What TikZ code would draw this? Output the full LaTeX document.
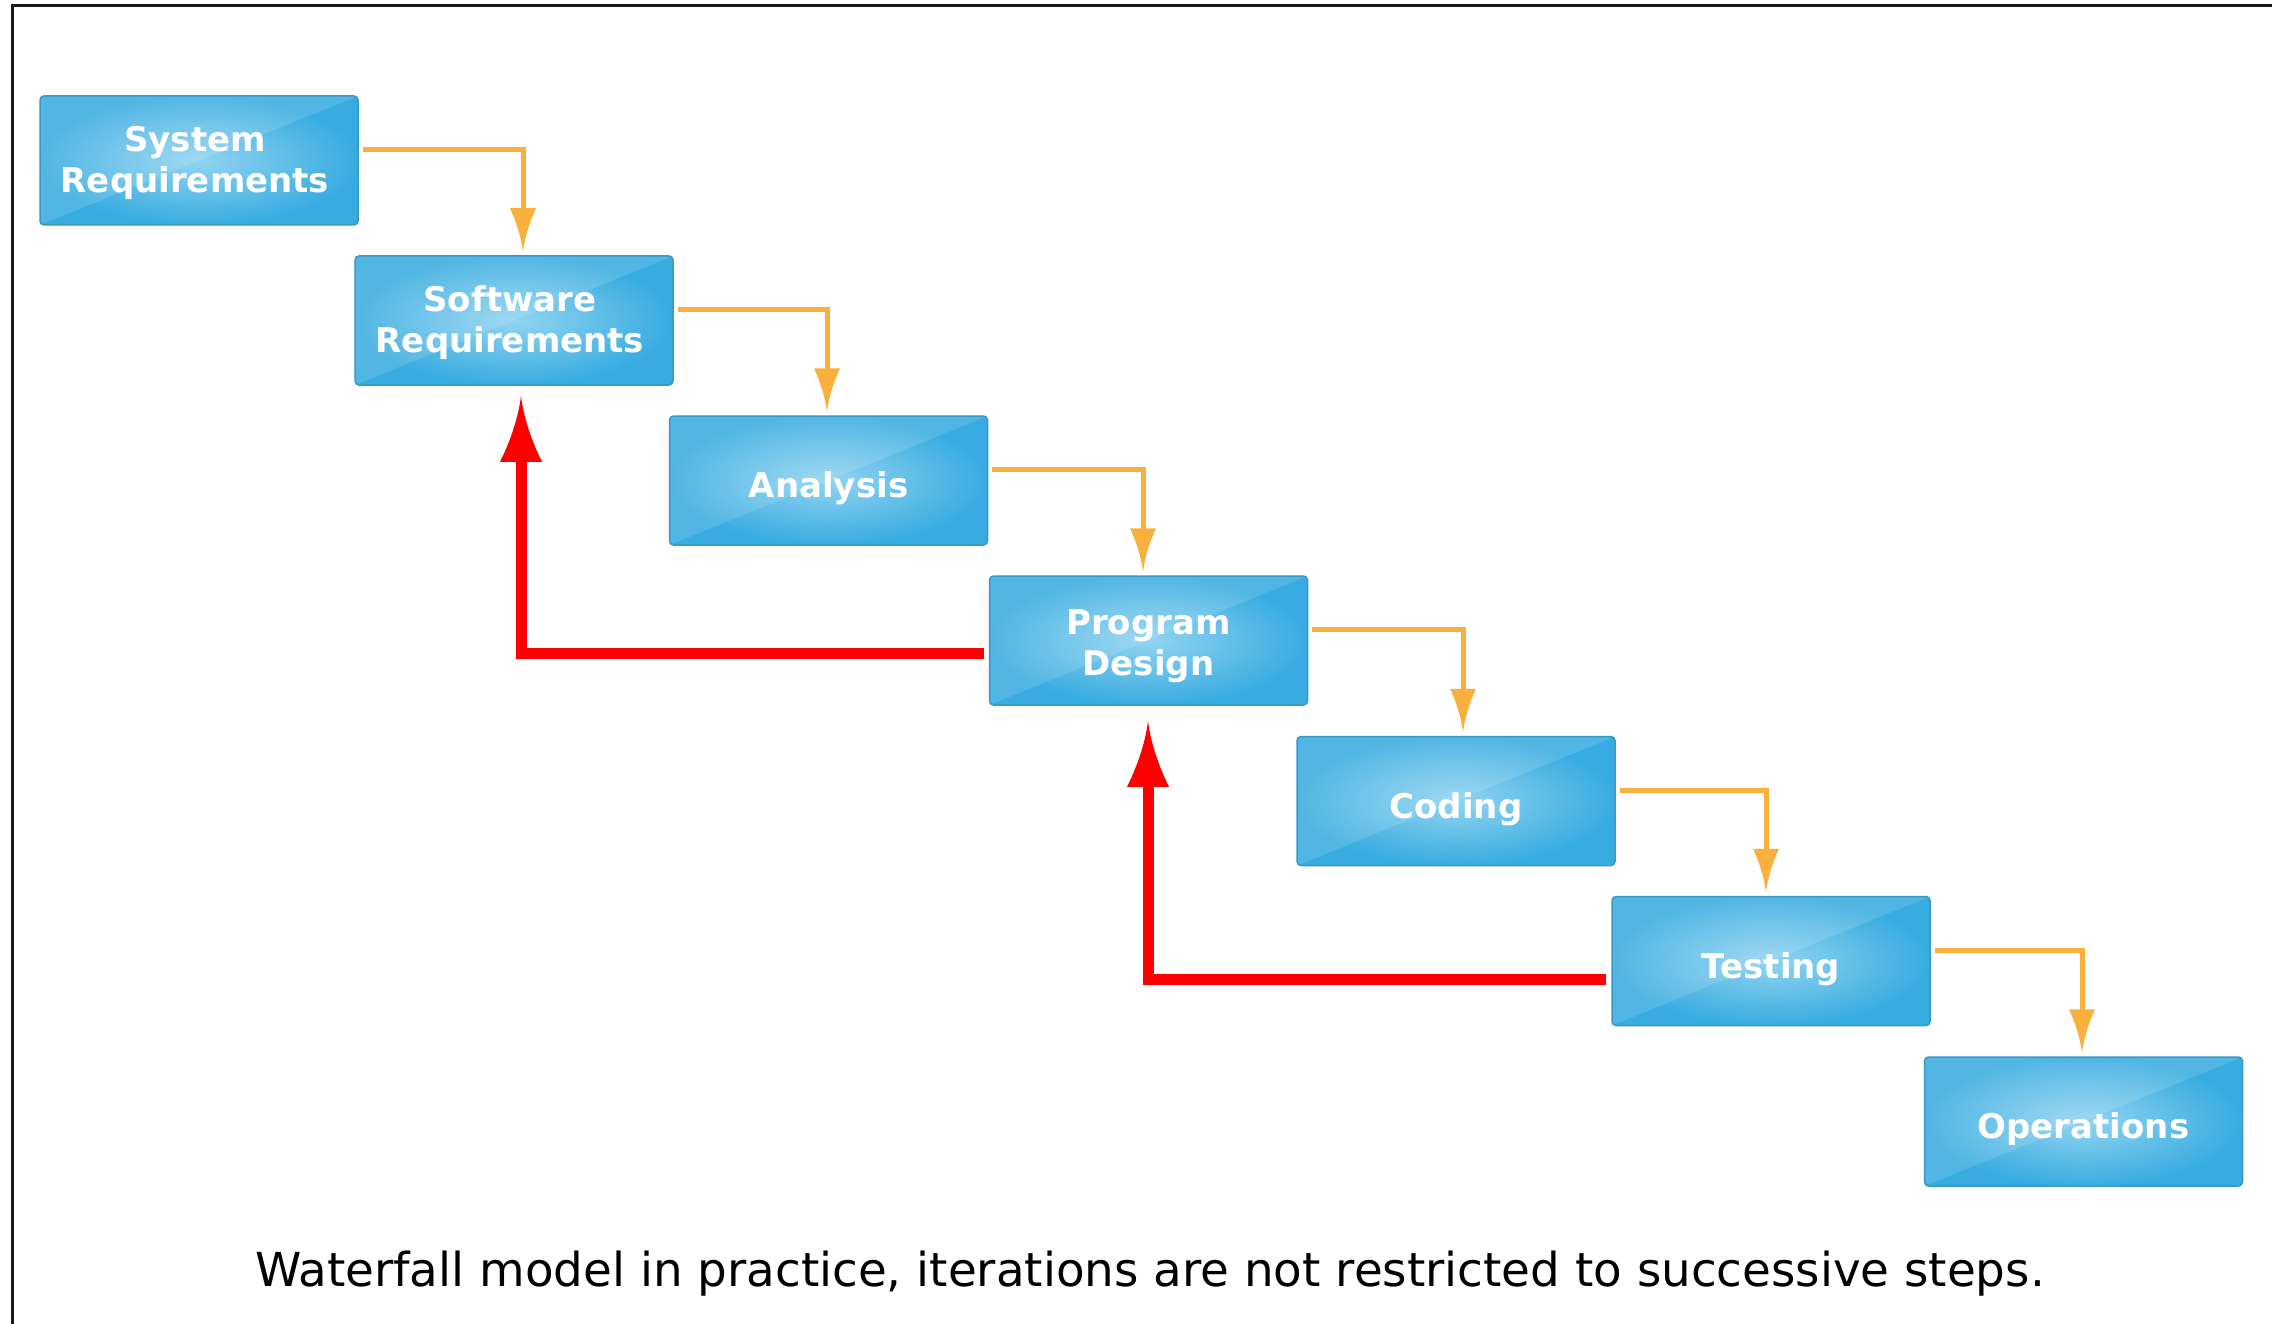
\documentclass[tikz,border=0pt]{standalone}
\usepackage{fontspec}
\setmainfont{DejaVu Sans}
\usetikzlibrary{arrows.meta}
\definecolor{boxin}{HTML}{92D4F1}
\definecolor{boxout}{HTML}{38ACE0}
\definecolor{boxedge}{HTML}{3B97C3}
\definecolor{flow}{HTML}{F9B03C}
\definecolor{back}{HTML}{FF0000}
\definecolor{frame}{HTML}{1A1A1A}
\pgfdeclarearrow{
  name = Swoosh,
  parameters = {\the\pgfarrowlength,\the\pgfarrowwidth},
  setup code = {
    \pgfarrowssettipend{\pgfarrowlength}
    \pgfarrowssetlineend{.3\pgfarrowlength}
    \pgfarrowssetbackend{0pt}
    \pgfarrowssavethe\pgfarrowlength
    \pgfarrowssavethe\pgfarrowwidth
  },
  drawing code = {
    \pgfpathmoveto{\pgfqpoint{\pgfarrowlength}{0pt}}
    \pgfpathcurveto{\pgfqpoint{.65\pgfarrowlength}{.06\pgfarrowwidth}}{\pgfqpoint{.25\pgfarrowlength}{.3\pgfarrowwidth}}{\pgfqpoint{0pt}{.5\pgfarrowwidth}}
    \pgfpathlineto{\pgfqpoint{0pt}{-.5\pgfarrowwidth}}
    \pgfpathcurveto{\pgfqpoint{.25\pgfarrowlength}{-.3\pgfarrowwidth}}{\pgfqpoint{.65\pgfarrowlength}{-.06\pgfarrowwidth}}{\pgfqpoint{\pgfarrowlength}{0pt}}
    \pgfpathclose
    \pgfusepathqfill
  },
  defaults = {length=40pt, width=24pt}
}
\tikzset{
  stepbox/.style={rectangle, rounded corners=4pt, draw=boxedge, line width=1.5pt,
    minimum width=318pt, minimum height=129pt, inner sep=0pt,
    inner color=boxin, outer color=boxout,
    path picture={\fill[white, opacity=0.13] (path picture bounding box.south west) -- (path picture bounding box.north west) -- (path picture bounding box.north east) -- cycle;}},
  steptext/.style={text=white, align=center, inner sep=0pt, font=\bfseries\fontsize{34}{41}\selectfont},
  flowline/.style={draw=flow, line width=5pt, -{Swoosh[length=44pt,width=26pt]}},
  backline/.style={draw=back, line width=11pt, -{Swoosh[length=66pt,width=42pt]}},
}
\begin{document}
\begin{tikzpicture}[x=1pt,y=-1pt]
\useasboundingbox (0,0) rectangle (2272,1324);
\fill[white] (0,0) rectangle (2272,1324);
\draw[frame, line width=3pt] (12,1330) -- (12,5.5) -- (2280,5.5);

\node[stepbox] (b1) at (199,160.5) {};
\node[stepbox] (b2) at (514,320.5) {};
\node[stepbox] (b3) at (828.5,480.5) {};
\node[stepbox] (b4) at (1148.5,640.5) {};
\node[stepbox] (b5) at (1456,801) {};
\node[stepbox] (b6) at (1771,961) {};
\node[stepbox] (b7) at (2083.5,1121.5) {};

\node[steptext] (t1) at ([shift={(-4pt,-2pt)}]b1.center) {System\\Requirements};
\node[steptext] (t2) at ([shift={(-4pt,-2pt)}]b2.center) {Software\\Requirements};
\node[steptext] (t3) at ([yshift=-8pt]b3.center) {Analysis};
\node[steptext] (t4) at ([yshift=-6pt]b4.center) {Program\\Design};
\node[steptext] (t5) at ([yshift=-8pt]b5.center) {Coding};
\node[steptext] (t6) at ([yshift=-8pt]b6.center) {Testing};
\node[steptext] (t7) at ([yshift=-8pt]b7.center) {Operations};

\draw[flowline] ([shift={(4pt,11pt)}]b1.east) -| ([shift={(9pt,3pt)}]b2.north);
\draw[flowline] ([shift={(4pt,11pt)}]b2.east) -| ([shift={(-1.5pt,3pt)}]b3.north);
\draw[flowline] ([shift={(4pt,11pt)}]b3.east) -| ([shift={(-5.5pt,3pt)}]b4.north);
\draw[flowline] ([shift={(4pt,11pt)}]b4.east) -| ([shift={(7pt,3pt)}]b5.north);
\draw[flowline] ([shift={(4pt,11pt)}]b5.east) -| ([shift={(-5pt,3pt)}]b6.north);
\draw[flowline] ([shift={(4pt,11pt)}]b6.east) -| ([shift={(-1.5pt,3pt)}]b7.north);

\draw[backline] ([shift={(-5pt,-12.5pt)}]b4.west) -| ([shift={(7pt,-10pt)}]b2.south);
\draw[backline] ([shift={(-5pt,-18pt)}]b6.west) -| ([shift={(-0.5pt,-15pt)}]b4.south);

\node[anchor=base, font=\fontsize{46.8}{56}\selectfont, inner sep=0pt] (cap) at (1150,1286) {Waterfall model in practice, iterations are not restricted to successive steps.};
\end{tikzpicture}
\end{document}
